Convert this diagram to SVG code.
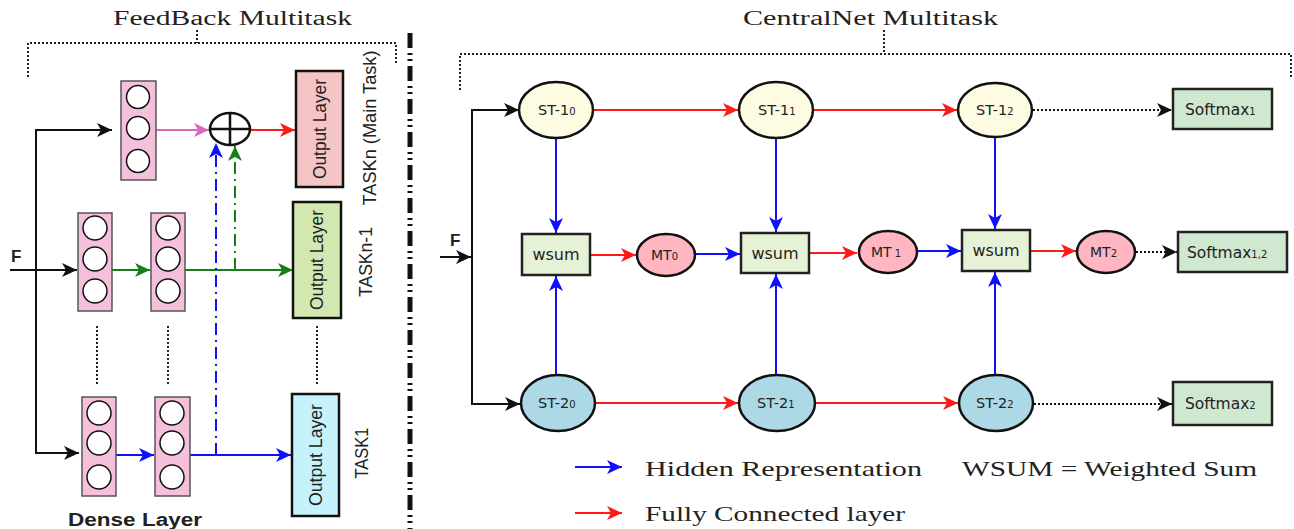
<svg xmlns="http://www.w3.org/2000/svg" width="1294" height="529" viewBox="0 0 1294 529">
<style>
.t{font-family:"Liberation Serif","Times New Roman",serif;fill:#222}
.s{font-family:"DejaVu Sans","Verdana",sans-serif;fill:#222}
.a{font-family:"Liberation Sans",Arial,sans-serif;fill:#222}
.dense{fill:#f5c0dc;stroke:#555;stroke-width:1.5}
.neu{fill:#fff;stroke:#111;stroke-width:1.5}
.out{stroke:#111;stroke-width:2.5}
.dot{fill:none;stroke:#222;stroke-width:2;stroke-dasharray:2 2}
.st1{fill:#fdfbe2;stroke:#111;stroke-width:2.5}
.st2{fill:#add8e6;stroke:#111;stroke-width:2.5}
.mt{fill:#ffb6c1;stroke:#111;stroke-width:2.5}
.ws{fill:#e6f2d6;stroke:#222;stroke-width:2.5}
.sm{fill:#d0e8d0;stroke:#222;stroke-width:2.5}
.k{fill:none;stroke:#111;stroke-width:2}
.r{fill:none;stroke:#ff1a1a;stroke-width:2}
.b{fill:none;stroke:#1010ff;stroke-width:2}
.g{fill:none;stroke:#168016;stroke-width:2}
.p{fill:none;stroke:#dd66bb;stroke-width:2}
</style>
<defs>
<marker id="mk" markerUnits="userSpaceOnUse" markerWidth="16" markerHeight="14" refX="15" refY="7" orient="auto"><path d="M0,0 L15,7 L0,14 L4,7 z" fill="#111"/></marker>
<marker id="mr" markerUnits="userSpaceOnUse" markerWidth="16" markerHeight="14" refX="15" refY="7" orient="auto"><path d="M0,0 L15,7 L0,14 L4,7 z" fill="#ff1a1a"/></marker>
<marker id="mb" markerUnits="userSpaceOnUse" markerWidth="16" markerHeight="14" refX="15" refY="7" orient="auto"><path d="M0,0 L15,7 L0,14 L4,7 z" fill="#1010ff"/></marker>
<marker id="mg" markerUnits="userSpaceOnUse" markerWidth="16" markerHeight="14" refX="15" refY="7" orient="auto"><path d="M0,0 L15,7 L0,14 L4,7 z" fill="#168016"/></marker>
<marker id="mp" markerUnits="userSpaceOnUse" markerWidth="16" markerHeight="14" refX="15" refY="7" orient="auto"><path d="M0,0 L15,7 L0,14 L4,7 z" fill="#dd66bb"/></marker>
</defs>
<rect width="1294" height="529" fill="#fff"/>

<g id="titles">
<text class="t" x="113" y="25" font-size="20" textLength="239" lengthAdjust="spacingAndGlyphs">FeedBack Multitask</text>
<text class="t" x="743" y="25" font-size="20" textLength="255" lengthAdjust="spacingAndGlyphs">CentralNet Multitask</text>
<path class="dot" d="M28,77 V43 H396 V65 M197,30 V43"/>
<path class="dot" d="M460,90 V54 H1291 V78 M884,30 V54"/>
<line x1="410" y1="33" x2="410" y2="529" stroke="#111" stroke-width="5" stroke-dasharray="15 5 2 4 2 5"/>
</g>

<g id="connectors">
<path class="k" d="M36,453 V130 H112" marker-end="url(#mk)"/>
<path class="k" d="M36,300 V453 H79" marker-end="url(#mk)"/>
<path class="k" d="M10,270 H77" marker-end="url(#mk)"/>
<path class="p" d="M156,130 H209" marker-end="url(#mp)"/>
<path class="r" d="M250,130 H295" marker-end="url(#mr)"/>
<path class="g" d="M112,270 H150" marker-end="url(#mg)"/>
<path class="g" d="M185,270 H293" marker-end="url(#mg)"/>
<path class="g" d="M235,270 V146" stroke-dasharray="12 5 2 5" marker-end="url(#mg)"/>
<path class="b" d="M116,455 H154" marker-end="url(#mb)"/>
<path class="b" d="M190,455 H291" marker-end="url(#mb)"/>
<path class="b" d="M216,455 V143" stroke-dasharray="12 5 2 5" marker-end="url(#mb)"/>
<path class="dot" d="M97,326 V385 M168,326 V385 M317,326 V385"/>

<path class="k" d="M440,257 H471" marker-end="url(#mk)"/>
<path class="k" d="M472,405 V110 H519" marker-end="url(#mk)"/>
<path class="k" d="M472,250 V404 H520" marker-end="url(#mk)"/>
<path class="r" d="M593,110 H738" marker-end="url(#mr)"/>
<path class="r" d="M813,110 H957" marker-end="url(#mr)"/>
<path class="r" d="M595,403 H738" marker-end="url(#mr)"/>
<path class="r" d="M815,403 H958" marker-end="url(#mr)"/>
<path class="b" d="M556,138 V233" marker-end="url(#mb)"/>
<path class="b" d="M556,376 V276" marker-end="url(#mb)"/>
<path class="b" d="M776,138 V232" marker-end="url(#mb)"/>
<path class="b" d="M776,376 V274" marker-end="url(#mb)"/>
<path class="b" d="M995,137 V229" marker-end="url(#mb)"/>
<path class="b" d="M995,376 V272" marker-end="url(#mb)"/>
<path class="r" d="M590,255 H636" marker-end="url(#mr)"/>
<path class="b" d="M696,254 H740" marker-end="url(#mb)"/>
<path class="r" d="M809,253 H857" marker-end="url(#mr)"/>
<path class="b" d="M917,251 H961" marker-end="url(#mb)"/>
<path class="r" d="M1030,251 H1076" marker-end="url(#mr)"/>
<path class="k" d="M1136,252 H1177" stroke-dasharray="2 2" marker-end="url(#mk)"/>
<path class="k" d="M1033,110 H1172" stroke-dasharray="2 2" marker-end="url(#mk)"/>
<path class="k" d="M1034,404 H1172" stroke-dasharray="2 2" marker-end="url(#mk)"/>
</g>

<g id="dense-top"><rect class="dense" x="121" y="81" width="35" height="99"/><circle class="neu" cx="138" cy="97" r="11.5"/><circle class="neu" cx="138" cy="128" r="11.5"/><circle class="neu" cx="138" cy="161" r="11.5"/></g>
<g id="dense-mid-1"><rect class="dense" x="78" y="213" width="34" height="98"/><circle class="neu" cx="95" cy="228" r="12"/><circle class="neu" cx="95" cy="259" r="12"/><circle class="neu" cx="95" cy="291" r="12"/></g>
<g id="dense-mid-2"><rect class="dense" x="151" y="213" width="34" height="98"/><circle class="neu" cx="168" cy="228" r="12"/><circle class="neu" cx="168" cy="259" r="12"/><circle class="neu" cx="168" cy="291" r="12"/></g>
<g id="dense-bot-1"><rect class="dense" x="82" y="397" width="34" height="99"/><circle class="neu" cx="99" cy="413" r="12"/><circle class="neu" cx="99" cy="443" r="12"/><circle class="neu" cx="99" cy="477" r="12"/></g>
<g id="dense-bot-2"><rect class="dense" x="155" y="397" width="35" height="99"/><circle class="neu" cx="172" cy="413" r="12"/><circle class="neu" cx="172" cy="443" r="12"/><circle class="neu" cx="172" cy="477" r="12"/></g>

<g id="oplus"><ellipse cx="230" cy="129" rx="20" ry="16" fill="#fff" stroke="#111" stroke-width="2.5"/><path d="M230,113 V145 M210,129 H250" stroke="#111" stroke-width="2.5"/></g>

<g id="out-top"><rect class="out" x="296" y="71" width="47" height="116" fill="#f5c4c4"/><text class="a" font-size="18" text-anchor="middle" x="320" y="135" transform="rotate(-90 320 129)" textLength="100" lengthAdjust="spacingAndGlyphs">Output Layer</text></g>
<g id="out-mid"><rect class="out" x="293" y="202" width="48" height="116" fill="#d3e8b0"/><text class="a" font-size="18" text-anchor="middle" x="317" y="266" transform="rotate(-90 317 260)" textLength="100" lengthAdjust="spacingAndGlyphs">Output Layer</text></g>
<g id="out-bot"><rect class="out" x="292" y="394" width="47" height="122" fill="#c6f2fb"/><text class="a" font-size="18" text-anchor="middle" x="316" y="461" transform="rotate(-90 316 455)" textLength="102" lengthAdjust="spacingAndGlyphs">Output Layer</text></g>

<g id="task-labels">
<text class="a" font-size="18" text-anchor="middle" x="369" y="135" transform="rotate(-90 369 128)" textLength="155" lengthAdjust="spacingAndGlyphs">TASKn (Main Task)</text>
<text class="a" font-size="18" text-anchor="middle" x="365" y="269" transform="rotate(-90 365 262)" textLength="70" lengthAdjust="spacingAndGlyphs">TASKn-1</text>
<text class="a" font-size="18" text-anchor="middle" x="361" y="460" transform="rotate(-90 361 453)" textLength="51" lengthAdjust="spacingAndGlyphs">TASK1</text>
<text class="a" font-size="17" font-weight="bold" x="11" y="262">F</text>
<text class="a" font-size="18" font-weight="bold" x="68" y="526" textLength="134" lengthAdjust="spacingAndGlyphs">Dense Layer</text>
</g>

<text class="a" font-size="17" font-weight="bold" x="450" y="246">F</text>

<g id="st1-0"><ellipse class="st1" cx="556" cy="110" rx="37" ry="28"/><text class="s" font-size="14.5" x="538" y="115">ST-1<tspan font-size="10">0</tspan></text></g>
<g id="st1-1"><ellipse class="st1" cx="776" cy="110" rx="37" ry="28"/><text class="s" font-size="14.5" x="758" y="115">ST-1<tspan font-size="10">1</tspan></text></g>
<g id="st1-2"><ellipse class="st1" cx="995" cy="110" rx="37" ry="27"/><text class="s" font-size="14.5" x="976" y="115">ST-1<tspan font-size="10">2</tspan></text></g>
<g id="st2-0"><ellipse class="st2" cx="558" cy="403" rx="37" ry="28"/><text class="s" font-size="14.5" x="538" y="408">ST-2<tspan font-size="10">0</tspan></text></g>
<g id="st2-1"><ellipse class="st2" cx="777" cy="403" rx="38" ry="28"/><text class="s" font-size="14.5" x="757" y="408">ST-2<tspan font-size="10">1</tspan></text></g>
<g id="st2-2"><ellipse class="st2" cx="996" cy="403" rx="37" ry="28"/><text class="s" font-size="14.5" x="976" y="408">ST-2<tspan font-size="10">2</tspan></text></g>

<g id="wsum-0"><rect class="ws" x="522" y="234" width="68" height="41"/><text class="s" font-size="16" text-anchor="middle" x="556" y="260">wsum</text></g>
<g id="wsum-1"><rect class="ws" x="741" y="233" width="68" height="40"/><text class="s" font-size="16" text-anchor="middle" x="775" y="259">wsum</text></g>
<g id="wsum-2"><rect class="ws" x="962" y="230" width="68" height="41"/><text class="s" font-size="16" text-anchor="middle" x="996" y="256">wsum</text></g>

<g id="mt-0"><ellipse class="mt" cx="666" cy="255" rx="29" ry="21"/><text class="s" font-size="14" x="651" y="260">MT<tspan font-size="10">0</tspan></text></g>
<g id="mt-1"><ellipse class="mt" cx="888" cy="252" rx="29" ry="21"/><text class="s" font-size="14" x="871" y="257">MT<tspan font-size="10"> 1</tspan></text></g>
<g id="mt-2"><ellipse class="mt" cx="1106" cy="252" rx="29" ry="21"/><text class="s" font-size="14" x="1090" y="257">MT<tspan font-size="10">2</tspan></text></g>

<g id="softmax-1"><rect class="sm" x="1173" y="89" width="99" height="40"/><text class="s" font-size="15.5" x="1185" y="115">Softmax<tspan font-size="10">1</tspan></text></g>
<g id="softmax-12"><rect class="sm" x="1178" y="232" width="109" height="40"/><text class="s" font-size="15.5" x="1187" y="258">Softmax<tspan font-size="10">1,2</tspan></text></g>
<g id="softmax-2"><rect class="sm" x="1173" y="382" width="99" height="43"/><text class="s" font-size="15.5" x="1185" y="409">Softmax<tspan font-size="10">2</tspan></text></g>

<g id="legend">
<path class="b" d="M575,467 H622" marker-end="url(#mb)"/>
<path class="r" d="M575,513 H622" marker-end="url(#mr)"/>
<text class="t" font-size="21" x="645" y="476" textLength="277" lengthAdjust="spacingAndGlyphs">Hidden Representation</text>
<text class="t" font-size="21" x="962" y="476" textLength="295" lengthAdjust="spacingAndGlyphs">WSUM = Weighted Sum</text>
<text class="t" font-size="21" x="645" y="521" textLength="260" lengthAdjust="spacingAndGlyphs">Fully Connected layer</text>
</g>
</svg>
